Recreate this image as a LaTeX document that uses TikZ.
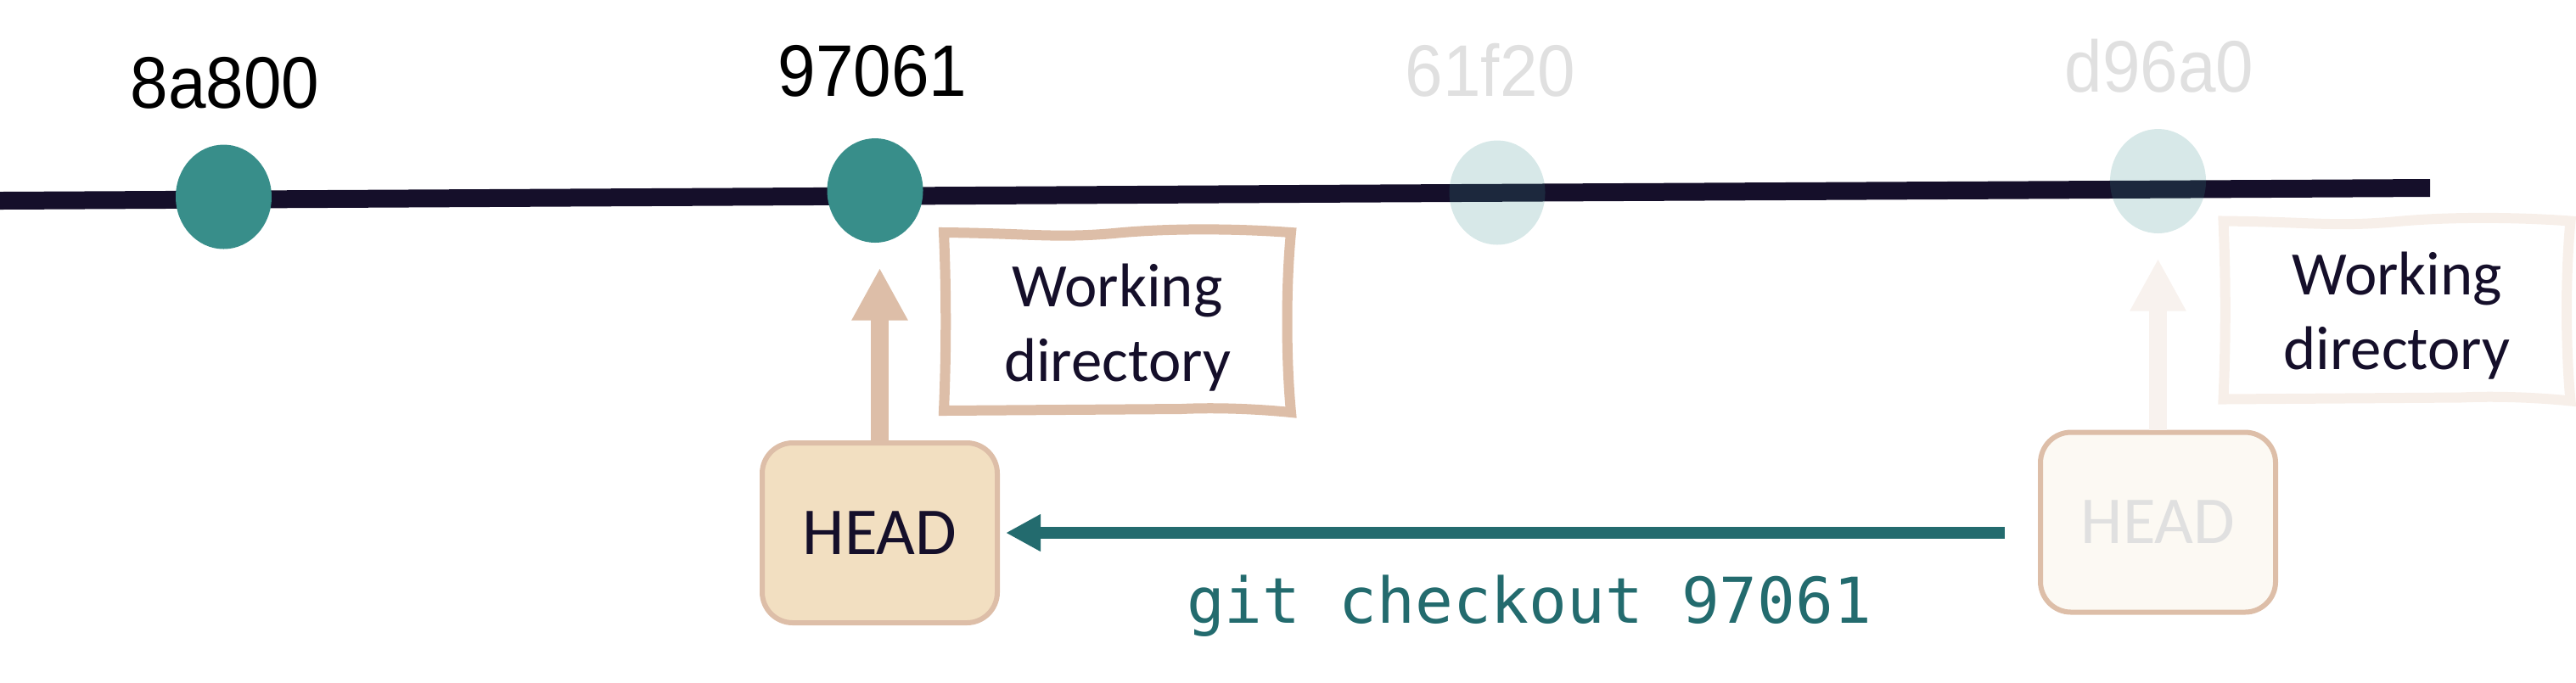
\documentclass[tikz,border=0pt]{standalone}
\usepackage{fontspec}
\setmainfont{Carlito}
\setmonofont{DejaVu Sans Mono}
\newfontfamily\hashfont{Liberation Sans}[FakeStretch = 0.93]
\usetikzlibrary{arrows.meta, shapes.geometric}
\definecolor{ink}{HTML}{150F2A}
\definecolor{commit}{HTML}{388E8A}
\definecolor{cmd}{HTML}{236B6E}
\definecolor{sand}{HTML}{DDBEA8}
\definecolor{wheat}{HTML}{F2DFC1}
\definecolor{ghost}{HTML}{E0E0E0}

\begin{document}
\begin{tikzpicture}[
		commitdot/.style = {ellipse, fill = commit, minimum width = 1.13cm, minimum height = 1.23cm, inner sep = 0},
		hash/.style = {anchor = base, font = \hashfont\fontsize{24.5}{28}\selectfont},
		headbox/.style = {draw = sand, line width = .06cm, rounded corners = .36cm, minimum width = 2.77cm, minimum height = 2.12cm, font = \fontsize{22.5}{26}\selectfont},
		wdir/.style = {minimum width = 4.09cm, minimum height = 2.1cm, inner sep = 0, outer sep = 0, align = center, text = ink, yshift = -.07cm, font = \fontsize{20.7}{25}\selectfont},
		uparrow/.style = {line width = .21cm, -{Triangle[width = .62cm, length = .62cm]}, shorten > = .29cm},
	]
		\useasboundingbox (0,0) rectangle (30.35,-8.04);
		\draw[ink, line width = .21cm] (0,-2.365) -- (28.63,-2.215);
		\foreach \n/\x/\y/\lx/\ly/\op/\tc in {8a800/2.635/2.32/2.65/1.27/1/black, 97061/10.31/2.245/10.28/1.13/1/black, 61f20/17.64/2.27/17.56/1.13/.2/ghost, d96a0/25.425/2.135/25.44/1.08/.2/ghost}{
			\node[commitdot, fill opacity = \op] (c\n) at (\x,-\y) {};
			\node[hash, text = \tc] (l\n) at (\lx,-\ly) {\n};
			}
		\node[headbox, fill = wheat, text = ink] (h1) at (10.365,-6.28) {HEAD};
		\node[headbox, fill = wheat!20, text = ghost] (h2) at (25.425,-6.155) {HEAD};
		\node[wdir] (wd1) at (13.165,-3.79) {Working\\directory};
		\node[wdir] (wd2) at (28.24,-3.655) {Working\\directory};
		% wavy frame round each working directory
		\foreach \b/\c in {wd1/sand, wd2/sand!25}{
			\draw[\c, line width = .12cm, shift = {([yshift = .07cm]\b.north west)}] (0,0) .. controls (1,-.01) and (1.3,-.07) .. (2,-.01) .. controls (2.6,.05) and (3.4,.05) .. (4.09,0) .. controls (4.03,-.6) and (4.03,-1.5) .. (4.09,-2.12) .. controls (3.7,-2.08) and (3.2,-2.06) .. (2.8,-2.08) -- (0,-2.1) .. controls (.03,-1.4) and (.03,-.7) .. cycle;
			}
		\draw[uparrow, sand] (h1.north) -- (h1.north |- c97061.south);
		\draw[uparrow, sand!20] (h2.north) -- (h2.north |- cd96a0.south);
		\draw[cmd, line width = .135cm, -{Triangle[width = .41cm, length = .41cm]}, shorten < = .39cm, shorten > = .07cm] (h2.west |- h1.east) -- (h1.east) node[pos = .49, anchor = base, yshift = -1.06cm, font = \ttfamily\fontsize{21.2}{25}\selectfont] (cmdlabel) {git checkout 97061};
\end{tikzpicture}
\end{document}
